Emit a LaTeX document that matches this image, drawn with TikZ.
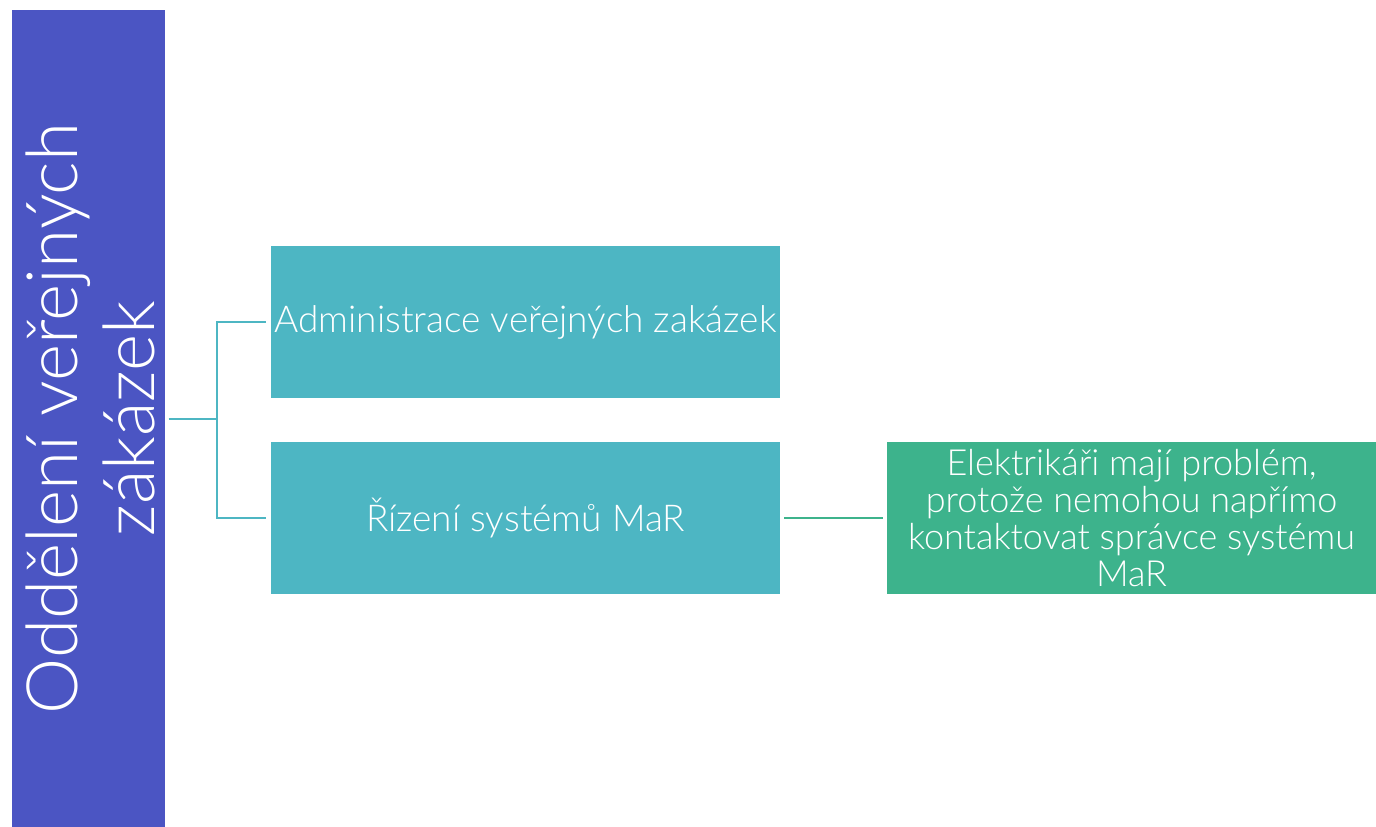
\documentclass[tikz,border=0pt]{standalone}
\usepackage{fontspec}
\setmainfont{Lato}[UprightFont=* Light]
\definecolor{barc}{HTML}{4B55C3}
\definecolor{tealc}{HTML}{4DB6C3}
\definecolor{greenc}{HTML}{3DB38C}
\begin{document}
\begin{tikzpicture}[x=1pt,y=-1pt,
  box/.style={draw=white,line width=1pt,inner sep=0pt,text=white,align=center},
  link/.style={line width=2.5pt}]
\useasboundingbox (0,0) rectangle (1376,827);
\node[box,fill=barc,minimum width=154pt,minimum height=818pt,anchor=north west] (bar) at (10.5,9) {};
\node[text=white,align=center,rotate=90,font=\fontsize{71}{77}\selectfont] (bart) at ([xshift=2pt,yshift=0pt]bar.center) {Oddělení veřejných\\zákázek};
\node[box,fill=tealc,minimum width=510pt,minimum height=153pt,anchor=north west,font=\fontsize{37}{40}\selectfont] (a) at (270,245) {Administrace veřejných zakázek};
\node[box,fill=tealc,minimum width=510pt,minimum height=153pt,anchor=north west,font=\fontsize{37}{40}\selectfont] (b) at (270,441) {Řízení systémů MaR};
\node[box,fill=greenc,minimum width=490pt,minimum height=153pt,anchor=north west,font=\fontsize{36}{37}\selectfont] (c) at (886,441) {Elektrikáři mají problém,\\protože nemohou napřímo\\kontaktovat správce systému\\MaR};
\coordinate (j) at (217,419);
\draw[link,tealc] ([xshift=3pt]bar.east |- j) -- (j) |- ([xshift=-4pt]a.west);
\draw[link,tealc] (j) |- ([xshift=-4pt]b.west);
\draw[link,greenc] ([xshift=3pt]b.east) -- ([xshift=-3pt]c.west);
\end{tikzpicture}
\end{document}
